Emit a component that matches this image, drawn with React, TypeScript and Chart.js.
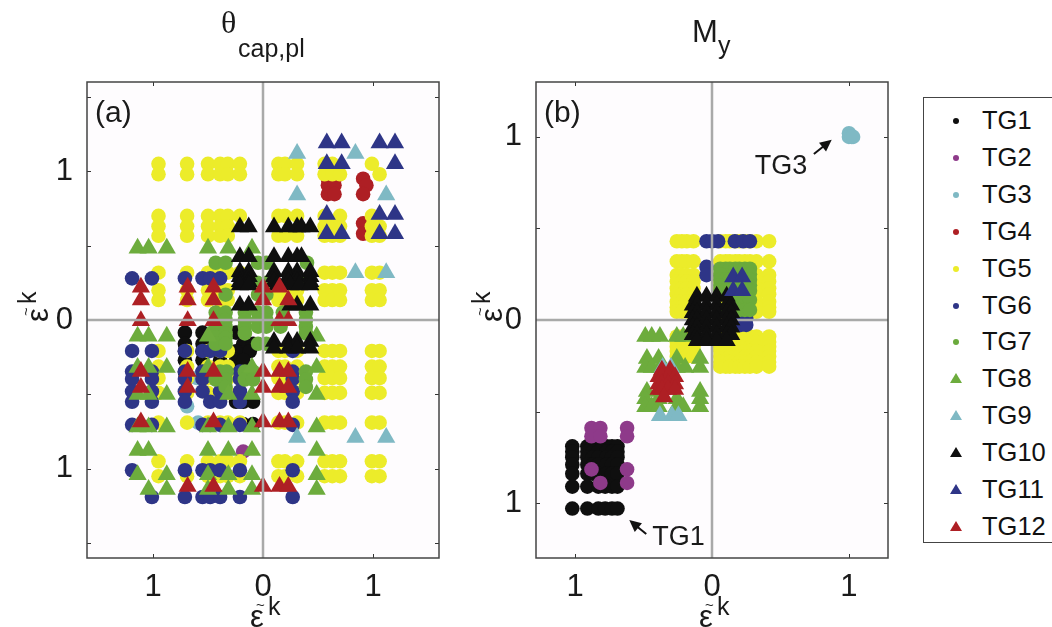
import React, { useEffect, useRef } from "react";
import { Chart, registerables } from "chart.js";

Chart.register(...registerables);

type Row = [number, number[]];

const seriesNames = ["TG1", "TG2", "TG3", "TG4", "TG5", "TG6", "TG7", "TG8", "TG9", "TG10", "TG11", "TG12"];
const seriesColors = ["#0f0f0f", "#8e3a8a", "#7fb9c4", "#ae1f24", "#ecec2a", "#2e3587", "#6aaa3c", "#6dac3d", "#7fb9c4", "#0f0f0f", "#2e3587", "#ae1f24"];
const seriesShapes = ["circle", "circle", "circle", "circle", "circle", "circle", "circle", "triangle", "triangle", "triangle", "triangle", "triangle"];

// Panel (a): each row is [y, x values]
const a1: Row[] = [
  [-0.085, [-0.71, -0.55, -0.245, -0.18]],
  [-0.16, [-0.71, -0.55, -0.18, -0.09]],
  [-0.21, [-0.71, -0.55, -0.245, -0.12]],
  [-0.27, [-0.71, -0.55, -0.39, -0.245, -0.18]],
  [-0.35, [-0.71, -0.55, -0.39, -0.245]],
  [-0.55, [-0.245, -0.18, -0.09]],
  [-0.7, [-0.18, -0.09]],
];
const a2: Row[] = [[-0.885, [-0.18]]];
const a3: Row[] = [[-0.39, [-0.6]], [-0.58, [-0.69]], [-0.69, [-0.59]]];
const a4: Row[] = [
  [0.95, [0.59, 0.65, 0.91]],
  [0.906, [0.59, 0.65, 0.94]],
  [0.846, [0.59, 0.65, 0.91]],
  [0.65, [0.6, 0.91]],
  [0.58, [0.63, 0.91]],
];
const a5: Row[] = [
  [1.05, [-0.95, -0.69, -0.5, -0.39, -0.32, -0.21, 0.14, 0.2, 0.31, 0.56, 0.63, 0.99]],
  [0.98, [-0.95, -0.69, -0.5, -0.39, -0.32, -0.21, 0.14, 0.2, 0.31, 0.56, 0.63, 0.7, 1.06]],
  [0.7, [-0.95, -0.69, -0.5, -0.39, -0.32, -0.21, 0.14, 0.2, 0.31, 0.56, 0.7, 0.99]],
  [0.63, [-0.95, -0.69, -0.5, -0.39, -0.32, 0.56, 0.63, 0.7, 0.99, 1.06]],
  [0.566, [-0.95, -0.69, -0.5, -0.39, -0.32, 0.14, 0.2, 0.31, 0.56, 0.63, 0.7, 0.99, 1.06]],
  [0.318, [-0.95, -0.69, -0.5, -0.39, -0.32, -0.21, 0.56, 0.63, 0.7, 0.99, 1.06]],
  [0.2, [-0.95, -0.69, -0.5, -0.39, -0.32, 0.14, 0.2, 0.31, 0.56, 0.63, 0.7, 0.99, 1.06]],
  [0.134, [-0.95, -0.69, -0.5, -0.39, -0.32, 0.14, 0.2, 0.31, 0.56, 0.63, 0.7, 0.99, 1.06]],
  [-0.208, [-0.95, -0.69, -0.5, -0.39, -0.32, 0.14, 0.2, 0.31, 0.56, 0.63, 0.7, 0.99, 1.06]],
  [-0.313, [-0.95, -0.69, -0.5, -0.39, -0.32, 0.14, 0.2, 0.31, 0.56, 0.63, 0.7, 0.99, 1.06]],
  [-0.39, [-0.95, -0.69, -0.5, -0.39, -0.32, 0.14, 0.2, 0.31, 0.56, 0.63, 0.7, 0.99, 1.06]],
  [-0.49, [-0.95, -0.69, -0.5, -0.39, -0.32, 0.14, 0.2, 0.31, 0.56, 0.63, 0.7, 0.99, 1.06]],
  [-0.69, [-0.95, -0.69, -0.5, -0.39, -0.32, -0.21, 0.14, 0.2, 0.31, 0.56, 0.63, 0.7, 0.99, 1.06]],
  [-0.95, [-0.95, -0.69, -0.5, -0.39, -0.32, -0.21, 0.14, 0.2, 0.31, 0.56, 0.63, 0.7, 0.99, 1.06]],
  [-1.05, [-0.95, -0.69, -0.5, -0.39, -0.32, -0.21, 0.14, 0.2, 0.31, 0.56, 0.63, 0.7, 0.99, 1.06]],
];
const a6: Row[] = [
  [0.28, [-1.19, -1.01, -0.71, -0.55, -0.48, -0.39, -0.21]],
  [-0.208, [-1.19, -1.01, -0.71, -0.55, -0.48, -0.39, 0.27]],
  [-0.347, [-1.19, -1.01, -0.71, -0.55, -0.48, -0.21, 0.27]],
  [-0.396, [-1.19, -1.01, -0.71, -0.55, -0.21, 0.27]],
  [-0.48, [-1.19, -1.01, -0.71, -0.55, -0.39, -0.21, 0.27]],
  [-0.55, [-1.19, -1.01, -0.71, -0.48, -0.39, -0.21, 0.27]],
  [-0.705, [-1.19, -1.01, -0.55, -0.48, -0.39, -0.21, 0.27]],
  [-1.01, [-1.19, -0.71, -0.55, -0.48, -0.39, -0.21, 0.27]],
  [-1.19, [-1.01, -0.71, -0.55, -0.48, -0.39, -0.21, 0.27]],
];
const a7: Row[] = [
  [0.385, [-0.43, -0.34, -0.045, 0.03, 0.4]],
  [0.25, [-0.05, 0.03, 0.38]],
  [0.17, [-0.34, -0.045, 0.03]],
  [0.05, [-0.43, -0.34, -0.165, -0.045, 0.03, 0.18, 0.39]],
  [0.0, [-0.43, -0.34, -0.165, -0.045, 0.03, 0.39]],
  [-0.045, [-0.43, -0.34, -0.165, -0.045, 0.03, 0.16, 0.39]],
  [-0.09, [-0.43, -0.34, -0.165, 0.39]],
  [-0.12, [-0.43, -0.34]],
  [-0.16, [-0.43, -0.34, -0.045, 0.03]],
  [-0.347, [-0.39, -0.33, -0.165, -0.09, 0.39]],
  [-0.4, [-0.43, -0.34, -0.165, -0.09, 0.39]],
  [-0.45, [-0.34, 0.39]],
];
const a8: Row[] = [
  [0.483, [-1.14, -1.04, -0.875, -0.5, -0.315, -0.1]],
  [-0.11, [-1.14, -1.04, -0.875, -0.5, 0.488]],
  [-0.32, [-1.14, -1.04, -0.875, -0.5, -0.1, 0.488]],
  [-0.5, [-1.14, -1.04, -0.875, -0.315, -0.1, 0.488]],
  [-0.72, [-1.14, -1.04, -0.875, -0.5, -0.315, -0.1, 0.488]],
  [-0.877, [-1.14, -1.04, -0.5, -0.315, -0.1, 0.488]],
  [-1.04, [-1.14, -0.875, -0.5, -0.315, -0.1, 0.488]],
  [-1.14, [-1.04, -0.875, -0.5, -0.315, -0.1, 0.488]],
];
const a9: Row[] = [
  [1.12, [0.31, 0.84]],
  [0.84, [0.31, 1.12]],
  [0.318, [0.84, 1.12]],
  [-0.79, [0.31, 0.84, 1.12]],
];
const a10: Row[] = [
  [0.626, [-0.21, -0.13, 0.1, 0.23, 0.31, 0.35, 0.43]],
  [0.425, [-0.21, -0.13, 0.1, 0.23, 0.31, 0.35]],
  [0.324, [-0.21, -0.13, 0.1, 0.23, 0.31, 0.43]],
  [0.29, [-0.21, -0.13, 0.1, 0.23, 0.31, 0.43]],
  [0.257, [-0.21, -0.13, 0.1, 0.23, 0.31, 0.43]],
  [0.235, [-0.21, -0.13, 0.13, 0.25, 0.33, 0.43]],
  [0.1, [-0.21, -0.13, 0.25, 0.31, 0.43]],
  [-0.145, [0.1, 0.23, 0.31, 0.43]],
  [-0.19, [0.1, 0.23, 0.31, 0.43]],
];
const a11: Row[] = [
  [1.19, [0.58, 0.715, 1.06, 1.2]],
  [1.05, [0.58, 0.715, 1.2]],
  [0.71, [0.58, 1.06, 1.2]],
  [0.58, [0.58, 0.715, 1.06, 1.2]],
];
const a12: Row[] = [
  [0.22, [-1.11, -0.685, -0.45, 0, 0.15]],
  [0.134, [-1.11, -0.685, -0.45, 0, 0.23]],
  [-0.005, [-1.11, -0.685, -0.45, 0.15, 0.23]],
  [-0.347, [-1.11, -0.685, -0.45, 0, 0.15, 0.23]],
  [-0.454, [-1.11, -0.685, 0, 0.15, 0.23]],
  [-0.685, [-1.11, -0.45, 0, 0.15, 0.23]],
  [-1.12, [-0.685, -0.45, 0, 0.15, 0.23]],
];

// Panel (b)
const b1: Row[] = [
  [-0.69, [-1.02, -0.91, -0.87, -0.83, -0.77, -0.73, -0.69]],
  [-0.72, [-1.02, -0.91, -0.87, -0.83, -0.77, -0.73, -0.69]],
  [-0.75, [-1.02, -0.91, -0.87, -0.83, -0.77, -0.73, -0.69]],
  [-0.79, [-1.02, -0.91, -0.87, -0.83, -0.77, -0.73, -0.69]],
  [-0.84, [-1.02, -0.91, -0.87, -0.83, -0.77, -0.73, -0.69]],
  [-0.91, [-1.02, -0.91, -0.83, -0.78, -0.73, -0.69]],
  [-1.03, [-1.02, -0.91, -0.83, -0.78, -0.73, -0.69]],
];
const b2: Row[] = [
  [-0.59, [-0.88, -0.815, -0.62]],
  [-0.635, [-0.88, -0.815, -0.62]],
  [-0.816, [-0.88, -0.62]],
  [-0.89, [-0.815, -0.62]],
];
const b3: Row[] = [[1.02, [1.0]], [1.0, [1.0, 1.02, 1.03]]];
const b4: Row[] = [[-0.31, [-0.35]]];
const b5: Row[] = [
  [0.43, [-0.257, -0.22, -0.184, -0.135, 0.06, 0.1, 0.13, 0.17, 0.2, 0.24, 0.277, 0.325, 0.417]],
  [0.32, [-0.257, -0.22, -0.184, -0.135, 0.06, 0.1, 0.13, 0.17, 0.2, 0.24, 0.277, 0.325, 0.417]],
  [0.246, [-0.257, -0.22, -0.184, -0.135, 0.06, 0.1, 0.13, 0.17, 0.2, 0.24, 0.277, 0.325, 0.417]],
  [0.21, [-0.257, -0.22, -0.184, -0.135, 0.06, 0.325, 0.417]],
  [0.173, [-0.257, -0.22, -0.184, -0.135, 0.06, 0.325, 0.417]],
  [0.14, [-0.257, -0.22, -0.184, -0.135, 0.06, 0.325, 0.417]],
  [0.1, [-0.257, -0.22, -0.184, -0.135, 0.06, 0.1, 0.13, 0.17, 0.2, 0.24, 0.277, 0.325, 0.417]],
  [0.07, [-0.257, -0.22, -0.184, -0.135, 0.325, 0.417]],
  [0.045, [-0.257, -0.22, -0.184, -0.135, 0.06, 0.1, 0.13, 0.17, 0.2, 0.24, 0.277, 0.325, 0.417]],
  [-0.09, [-0.257, -0.22, -0.184, -0.135, 0.06, 0.1, 0.13, 0.17, 0.2, 0.24, 0.277, 0.325, 0.417]],
  [-0.12, [-0.257, -0.22, -0.184, 0.06, 0.1, 0.13, 0.17, 0.2, 0.24, 0.277, 0.325, 0.417]],
  [-0.146, [-0.257, -0.22, -0.184, -0.135, 0.06, 0.1, 0.13, 0.17, 0.2, 0.24, 0.277, 0.325, 0.417]],
  [-0.17, [-0.257, -0.22, -0.184, 0.06, 0.1, 0.13, 0.17, 0.2, 0.24, 0.277, 0.325, 0.417]],
  [-0.2, [-0.257, -0.22, -0.184, -0.135, 0.06, 0.1, 0.13, 0.17, 0.2, 0.24, 0.277, 0.325, 0.417]],
  [-0.23, [0.06, 0.1, 0.13, 0.17, 0.2, 0.24, 0.277, 0.325, 0.417]],
  [-0.255, [0.06, 0.1, 0.13, 0.17, 0.2, 0.24, 0.277, 0.325, 0.417]],
];
const b6: Row[] = [
  [0.43, [-0.04, 0.0, 0.045, 0.167, 0.227, 0.277]],
  [0.29, [-0.04]],
  [0.245, [-0.04]],
  [0.01, [0.21, 0.25]],
  [-0.027, [0.21, 0.25]],
];
const b7: Row[] = [
  [0.28, [0.06, 0.1, 0.13, 0.17, 0.2, 0.24, 0.277]],
  [0.25, [0.06, 0.277]],
  [0.22, [0.06, 0.1, 0.13, 0.17, 0.2, 0.24, 0.277]],
  [0.19, [0.06, 0.277]],
  [0.16, [0.06, 0.1, 0.13, 0.17, 0.2, 0.24, 0.277]],
  [0.11, [0.2, 0.24, 0.277]],
  [0.055, [0.06, 0.13, 0.2, 0.24, 0.277]],
];
const b8: Row[] = [
  [-0.09, [-0.487, -0.44, -0.38, -0.257, -0.21]],
  [-0.21, [-0.475, -0.39, -0.257, -0.087]],
  [-0.26, [-0.487, -0.44, -0.38, -0.257, -0.196, -0.087]],
  [-0.39, [-0.475, -0.087]],
  [-0.43, [-0.487, -0.39, -0.257, -0.087]],
  [-0.474, [-0.487, -0.44, -0.39, -0.257, -0.21, -0.087]],
];
const b9: Row[] = [[-0.523, [-0.38, -0.293, -0.245]], [-0.26, [-0.36, -0.3]]];
const b10: Row[] = [
  [0.13, [-0.11, -0.04, 0.034, 0.107]],
  [0.08, [-0.14, -0.11, -0.04, 0.034, 0.107, 0.14]],
  [0.04, [-0.14, -0.11, -0.04, 0.034, 0.107, 0.14]],
  [0, [-0.14, -0.11, -0.04, 0.034, 0.107, 0.14]],
  [-0.04, [-0.14, -0.11, -0.04, 0.034, 0.107, 0.14]],
  [-0.08, [-0.14, -0.11, -0.04, 0.034, 0.107, 0.14]],
  [-0.113, [-0.11, -0.04, 0.034, 0.107]],
];
const b11: Row[] = [[0.235, [0.155, 0.22]], [0.16, [0.155, 0.22]]];
const b12: Row[] = [
  [-0.275, [-0.366, -0.306]],
  [-0.31, [-0.39, -0.366, -0.32, -0.27]],
  [-0.35, [-0.39, -0.366, -0.32, -0.27]],
  [-0.38, [-0.39, -0.366, -0.32, -0.27]],
  [-0.42, [-0.35]],
];

const panelARows = [a1, a2, a3, a4, a5, a6, a7, a8, a9, a10, a11, a12];
const panelBRows = [b1, b2, b3, b4, b5, b6, b7, b8, b9, b10, b11, b12];

const aXTicks = [-1, 0, 1];
const aYTicks = [-1.5, -1, -0.5, 0, 0.5, 1, 1.5];
const bXTicks = [-1, 0, 1];
const bYTicks = [-1, -0.5, 0, 0.5, 1];
const labelledTicks = [-1, 0, 1];

const SANS = '"Liberation Sans", Arial, sans-serif';

function toPoints(rows: Row[]) {
  const out: { x: number; y: number }[] = [];
  rows.forEach(([y, xs]) => xs.forEach((x) => out.push({ x, y })));
  return out;
}

function arrow(ctx: CanvasRenderingContext2D, x0: number, y0: number, x1: number, y1: number) {
  const a = Math.atan2(y1 - y0, x1 - x0);
  ctx.strokeStyle = "#111";
  ctx.fillStyle = "#111";
  ctx.lineWidth = 2;
  ctx.beginPath();
  ctx.moveTo(x0, y0);
  ctx.lineTo(x1 - 8 * Math.cos(a), y1 - 8 * Math.sin(a));
  ctx.stroke();
  ctx.beginPath();
  ctx.moveTo(x1, y1);
  ctx.lineTo(x1 - 13 * Math.cos(a - 0.45), y1 - 13 * Math.sin(a - 0.45));
  ctx.lineTo(x1 - 13 * Math.cos(a + 0.45), y1 - 13 * Math.sin(a + 0.45));
  ctx.closePath();
  ctx.fill();
}

function drawEpsilon(ctx: CanvasRenderingContext2D) {
  ctx.fillStyle = "#1a1a1a";
  ctx.textAlign = "left";
  ctx.textBaseline = "alphabetic";
  ctx.font = `31px ${SANS}`;
  ctx.fillText("ε", -13, 9);
  ctx.font = `15px ${SANS}`;
  ctx.fillText("~", -7, -8);
  ctx.font = `25px ${SANS}`;
  ctx.fillText("k", 5, -3);
}

const makeOverlay = (cfg: any) => ({
  id: "overlay",
  beforeDraw(chart: any) {
    const { ctx, chartArea: ca } = chart;
    ctx.save();
    ctx.fillStyle = "#fefcfe";
    ctx.fillRect(ca.left, ca.top, ca.width, ca.height);
    ctx.restore();
  },
  beforeDatasetDraw(chart: any, args: any) {
    if (cfg.linesBefore === args.index) drawZero(chart);
  },
  afterDatasetsDraw(chart: any) {
    if (cfg.linesBefore === undefined) drawZero(chart);
  },
  afterDraw(chart: any) {
    const { ctx, chartArea: ca, scales } = chart;
    ctx.save();
    // inward ticks on all four sides
    ctx.strokeStyle = "#333";
    ctx.lineWidth = 1;
    ctx.beginPath();
    scales.x.ticks.forEach((t: any) => {
      if (t.value === 0) return;
      const p = Math.round(scales.x.getPixelForValue(t.value)) + 0.5;
      ctx.moveTo(p, ca.top);
      ctx.lineTo(p, ca.top + 4);
      ctx.moveTo(p, ca.bottom);
      ctx.lineTo(p, ca.bottom - 4);
    });
    scales.y.ticks.forEach((t: any) => {
      if (t.value === 0) return;
      const p = Math.round(scales.y.getPixelForValue(t.value)) + 0.5;
      ctx.moveTo(ca.left, p);
      ctx.lineTo(ca.left + 4, p);
      ctx.moveTo(ca.right, p);
      ctx.lineTo(ca.right - 4, p);
    });
    ctx.stroke();
    // frame
    ctx.strokeStyle = "#444";
    ctx.lineWidth = 1.5;
    ctx.strokeRect(ca.left, ca.top, ca.width, ca.height);

    // panel letter
    ctx.fillStyle = "#1a1a1a";
    ctx.font = `30px ${SANS}`;
    ctx.textAlign = "left";
    ctx.textBaseline = "alphabetic";
    ctx.fillText(cfg.letter, ca.left + 8, 122);

    // title
    cfg.title(ctx, scales.x.getPixelForValue(0));

    // axis names
    const cx = scales.x.getPixelForValue(0);
    ctx.save();
    ctx.translate(cx, 618);
    drawEpsilon(ctx);
    ctx.restore();
    ctx.save();
    ctx.translate(cfg.yNameX, scales.y.getPixelForValue(0) - 11);
    ctx.rotate(-Math.PI / 2);
    drawEpsilon(ctx);
    ctx.restore();

    // annotations
    (cfg.notes || []).forEach((n: any) => {
      ctx.fillStyle = "#1a1a1a";
      ctx.font = `27px ${SANS}`;
      ctx.textAlign = "left";
      ctx.textBaseline = "alphabetic";
      ctx.fillText(n.text, scales.x.getPixelForValue(n.tx), scales.y.getPixelForValue(n.ty));
      arrow(
        ctx,
        scales.x.getPixelForValue(n.ax0),
        scales.y.getPixelForValue(n.ay0),
        scales.x.getPixelForValue(n.ax1),
        scales.y.getPixelForValue(n.ay1)
      );
    });
    ctx.restore();
  },
});

function drawZero(chart: any) {
  const { ctx, chartArea: ca, scales } = chart;
  const px = scales.x.getPixelForValue(0);
  const py = scales.y.getPixelForValue(0);
  ctx.save();
  ctx.strokeStyle = "#a9a9a9";
  ctx.lineWidth = 2.5;
  ctx.beginPath();
  ctx.moveTo(px, ca.top);
  ctx.lineTo(px, ca.bottom);
  ctx.moveTo(ca.left, py);
  ctx.lineTo(ca.right, py);
  ctx.stroke();
  ctx.restore();
}

function makeChart(
  canvas: HTMLCanvasElement,
  rows: Row[][],
  xMax: number,
  yMax: number,
  xTicks: number[],
  yTicks: number[],
  padL: number,
  padR: number,
  overlay: any
) {
  const tickFont = { family: SANS, size: 31 };
  const tickCb = (v: any) => (labelledTicks.includes(v) ? String(Math.abs(v)) : "");
  return new Chart(canvas, {
    type: "scatter",
    data: {
      datasets: rows.map((r, i) => ({
        label: seriesNames[i],
        data: toPoints(r),
        order: 12 - i,
        pointStyle: seriesShapes[i],
        pointRadius: seriesShapes[i] === "circle" ? 7.3 : 10.5,
        pointBackgroundColor: seriesColors[i],
        pointBorderWidth: 0,
        showLine: false,
      })),
    },
    options: {
      animation: false,
      responsive: false,
      events: [],
      clip: false,
      layout: { padding: { top: 82, right: padR, bottom: 0, left: 0 } },
      plugins: { legend: { display: false }, tooltip: { enabled: false }, title: { display: false } },
      scales: {
        x: {
          type: "linear",
          min: -xMax,
          max: xMax,
          grid: { display: false },
          border: { display: false },
          afterBuildTicks: (s: any) => { s.ticks = xTicks.map((value) => ({ value })); },
          afterFit: (s: any) => { s.height = 69; },
          ticks: { font: tickFont, color: "#1a1a1a", padding: 3, maxRotation: 0, autoSkip: false, callback: tickCb },
        },
        y: {
          type: "linear",
          min: -yMax,
          max: yMax,
          grid: { display: false },
          border: { display: false },
          afterBuildTicks: (s: any) => { s.ticks = yTicks.map((value) => ({ value })); },
          afterFit: (s: any) => { s.width = padL; },
          ticks: { font: tickFont, color: "#1a1a1a", padding: 6, autoSkip: false, callback: tickCb },
        },
      },
    } as any,
    plugins: [overlay],
  } as any);
}

function LegendMark({ index }: { index: number }) {
  const c = seriesColors[index];
  return (
    <svg width="16" height="14" style={{ position: "absolute", left: 24, top: 9 }}>
      {seriesShapes[index] === "circle" ? (
        <circle cx="8" cy="7" r="3" fill={c} />
      ) : (
        <polygon points="8,1 14,11 2,11" fill={c} />
      )}
    </svg>
  );
}

export default function App() {
  const aRef = useRef<HTMLCanvasElement>(null);
  const bRef = useRef<HTMLCanvasElement>(null);
  useEffect(() => {
    const chartA = makeChart(aRef.current!, panelARows, 1.6, 1.6, aXTicks, aYTicks, 87, 31, makeOverlay({
      letter: "(a)",
      yNameX: 39,
      title: (ctx: CanvasRenderingContext2D, cx: number) => {
        ctx.fillStyle = "#1a1a1a";
        ctx.textAlign = "left";
        ctx.font = `32px "Liberation Serif", serif`;
        ctx.fillText("θ", cx - 42, 33);
        ctx.font = `25px ${SANS}`;
        ctx.fillText("cap,pl", cx - 25, 57);
      },
    }));
    const chartB = makeChart(bRef.current!, panelBRows, 1.285, 1.3, bXTicks, bYTicks, 96, 32, makeOverlay({
      letter: "(b)",
      yNameX: 53,
      linesBefore: 9,
      title: (ctx: CanvasRenderingContext2D, cx: number) => {
        ctx.fillStyle = "#1a1a1a";
        ctx.textAlign = "left";
        ctx.font = `31px ${SANS}`;
        ctx.fillText("M", cx - 20, 42);
        ctx.font = `25px ${SANS}`;
        ctx.fillText("y", cx + 6, 54);
      },
      notes: [
        { text: "TG3", tx: 0.313, ty: 0.798, ax0: 0.744, ay0: 0.907, ax1: 0.874, ay1: 0.984 },
        { text: "TG1", tx: -0.437, ty: -1.23, ax0: -0.48, ay0: -1.169, ax1: -0.604, ay1: -1.093 },
      ],
    }));
    return () => {
      chartA.destroy();
      chartB.destroy();
    };
  }, []);
  return (
    <div style={{ position: "absolute", left: 0, top: 0, width: 1052, height: 627, overflow: "hidden", background: "#fff" }}>
      <canvas ref={aRef} width={470} height={627} style={{ position: "absolute", left: 0, top: 0 }} />
      <canvas ref={bRef} width={480} height={627} style={{ position: "absolute", left: 440, top: 0 }} />
      <div
        style={{
          position: "absolute",
          left: 923,
          top: 97,
          width: 160,
          height: 444,
          border: "1.5px solid #444",
          fontFamily: SANS,
          fontSize: 25.5,
          color: "#111",
        }}
      >
        {seriesNames.map((name, i) => (
          <div key={name} style={{ position: "absolute", left: 0, top: 7 + i * 36.9, height: 30, width: 150, lineHeight: "30px" }}>
            <LegendMark index={i} />
            <span style={{ position: "absolute", left: 58, top: 0 }}>{name}</span>
          </div>
        ))}
      </div>
    </div>
  );
}
